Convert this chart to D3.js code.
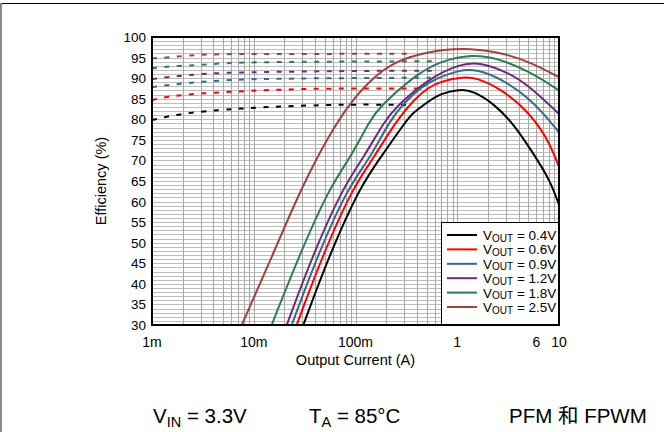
<!DOCTYPE html>
<meta charset="utf-8">
<style>
body { margin: 0; background: #fff; }
svg { font-family: "Liberation Sans", Arial, "Noto Sans CJK SC", sans-serif; }
</style>
<svg width="664" height="432"></svg>
<script src="https://d3js.org/d3.v7.min.js"></script>
<script>
// series labels and colours
var vouts = ["0.4V", "0.6V", "0.9V", "1.2V", "1.8V", "2.5V"];
var colors = ["#000000", "#ff0000", "#336b8a", "#6b2d7a", "#2f7a57", "#a0403f"];

// FPWM curves [current A, efficiency %]
var fpwm04 = [[0.0307,30],[0.0561,47.4],[0.111,63.6],[0.174,70.5],[0.318,79.8],[0.370,81.6],[0.494,83.9],[0.63,85.8],[0.85,86.8],[1.12,87.3],[1.44,86.8],[2.26,83.9],[3.56,79.0],[5.59,71.7],[8.16,65.2],[10,59.2]];
var fpwm06 = [[0.0264,30],[0.0483,47.4],[0.0951,63.6],[0.150,70.5],[0.254,79.8],[0.385,85.0],[0.505,87.5],[0.676,89.2],[1.14,90.3],[1.55,90.1],[2.63,87.5],[4.82,82.3],[7.57,75.8],[10,68.5]];
var fpwm09 = [[0.0236,30],[0.0431,47.4],[0.0849,63.6],[0.139,70.5],[0.218,79.8],[0.300,84.0],[0.451,88.0],[0.632,90.0],[1.06,92.0],[1.55,92.2],[2.84,89.6],[4.82,85.5],[7.01,81.5],[10,76.8]];
var fpwm12 = [[0.0211,30],[0.0385,47.4],[0.0759,63.6],[0.119,70.5],[0.195,79.8],[0.254,83.1],[0.501,89.6],[1.06,93.5],[1.67,93.9],[3.30,91.2],[5.19,87.9],[10,81.3]];
var fpwm18 = [[0.0150,30],[0.0285,47.4],[0.0561,63.6],[0.0883,70.5],[0.139,79.8],[0.174,83.1],[0.370,90.4],[0.676,94.2],[1.43,95.8],[2.44,94.9],[5.19,91.6],[10,87.0]];
var fpwm25 = [[0.00762,30],[0.0156,47.4],[0.0296,63.6],[0.0561,76.6],[0.0883,83.9],[0.139,89.6],[0.254,94.4],[0.540,96.5],[1.11,97.4],[2.44,96.5],[5.19,94.0],[10,90.2]];

// PFM curves (dashed) [current A, efficiency %]
var pfm04 = [[0.001,79.8],[0.0019,81.4],[0.0047,82.3],[0.0085,82.7],[0.017,83.1],[0.052,83.5],[0.124,83.6],[0.33,83.5]];
var pfm06 = [[0.001,84.7],[0.0014,85.5],[0.002,85.9],[0.003,86.3],[0.006,86.7],[0.011,87.0],[0.031,87.4],[0.091,87.5],[0.5,87.5]];
var pfm09 = [[0.001,87.8],[0.0014,88.3],[0.002,88.7],[0.003,89.1],[0.006,89.6],[0.012,89.8],[0.05,90.0],[0.55,90.1]];
var pfm12 = [[0.001,89.8],[0.0014,90.2],[0.002,90.6],[0.003,91.0],[0.006,91.4],[0.03,91.6],[0.15,91.8],[0.62,91.8]];
var pfm18 = [[0.001,92.4],[0.0014,92.8],[0.002,93.0],[0.003,93.2],[0.006,93.8],[0.03,94.0],[0.65,94.1]];
var pfm25 = [[0.001,94.8],[0.0014,95.0],[0.002,95.4],[0.0035,95.8],[0.01,95.9],[0.37,95.9]];

// axis ticks
var xTicks = [0.001, 0.01, 0.1, 1, 6, 10];
var xTickLabels = ["1m", "10m", "100m", "1", "6", "10"];
var yTicks = d3.range(30, 101, 5);

var fpwm = [fpwm04, fpwm06, fpwm09, fpwm12, fpwm18, fpwm25];
var pfm = [pfm04, pfm06, pfm09, pfm12, pfm18, pfm25];

var svg = d3.select("svg");
var pL = 152, pR = 559, pT = 37, pB = 325;

var x = d3.scaleLog().domain([0.001, 10]).range([pL, pR]);
var y = d3.scaleLinear().domain([30, 100]).range([pB, pT]);

// outer frame lines
svg.append("line").attr("x1", 0).attr("x2", 664).attr("y1", 3.5).attr("y2", 3.5)
    .attr("stroke", "#000").attr("stroke-width", 1);
svg.append("line").attr("x1", 1).attr("x2", 1).attr("y1", 3).attr("y2", 432)
    .attr("stroke", "#8a8a8a").attr("stroke-width", 2);

// grid
var minor = [];
[0.001, 0.01, 0.1, 1].forEach(function(d) {
  for (var k = 1; k < 10; k++) minor.push(d * k);
});
minor.push(10);

svg.append("g").selectAll("line")
    .data(d3.range(30, 101, 1))
  .enter().append("line")
    .attr("x1", pL).attr("x2", pR)
    .attr("y1", function(d) { return Math.round(y(d)) + 0.5; })
    .attr("y2", function(d) { return Math.round(y(d)) + 0.5; })
    .attr("stroke", "#bdbdbd");

svg.append("g").selectAll("line")
    .data(minor)
  .enter().append("line")
    .attr("y1", pT).attr("y2", pB)
    .attr("x1", function(d) { return Math.round(x(d)) + 0.5; })
    .attr("x2", function(d) { return Math.round(x(d)) + 0.5; })
    .attr("stroke", "#a8a8a8");

svg.append("clipPath").attr("id", "plot")
  .append("rect").attr("x", pL).attr("y", pT)
    .attr("width", pR - pL).attr("height", pB - pT);

var line = d3.line()
    .x(function(d) { return x(d[0]); })
    .y(function(d) { return y(d[1]); })
    .curve(d3.curveBasis);

var g = svg.append("g").attr("clip-path", "url(#plot)");

g.selectAll("path.pfm")
    .data(pfm)
  .enter().append("path")
    .attr("class", "pfm")
    .attr("d", line)
    .attr("fill", "none")
    .attr("stroke", function(d, i) { return colors[i]; })
    .attr("stroke-width", 2)
    .attr("stroke-dasharray", "5,7.5");

g.selectAll("path.fpwm")
    .data(fpwm)
  .enter().append("path")
    .attr("class", "fpwm")
    .attr("d", line)
    .attr("fill", "none")
    .attr("stroke", function(d, i) { return colors[i]; })
    .attr("stroke-width", 2);

// plot border
svg.append("rect")
    .attr("x", pL).attr("y", pT)
    .attr("width", pR - pL).attr("height", pB - pT)
    .attr("fill", "none").attr("stroke", "#000").attr("stroke-width", 2);

// tick labels
svg.append("g").selectAll("text")
    .data(yTicks)
  .enter().append("text")
    .attr("x", 146)
    .attr("y", function(d) { return y(d) + 5; })
    .attr("text-anchor", "end")
    .attr("font-size", 13.5)
    .text(function(d) { return d; });

svg.append("g").selectAll("text")
    .data(xTicks)
  .enter().append("text")
    .attr("x", function(d) { return x(d); })
    .attr("y", 347)
    .attr("text-anchor", "middle")
    .attr("font-size", 14)
    .text(function(d, i) { return xTickLabels[i]; });

svg.append("text")
    .attr("x", (pL + pR) / 2).attr("y", 365)
    .attr("text-anchor", "middle").attr("font-size", 14.5)
    .text("Output Current (A)");

svg.append("text")
    .attr("transform", "translate(106," + ((pT + pB) / 2) + ") rotate(-90)")
    .attr("text-anchor", "middle").attr("font-size", 14.5)
    .text("Efficiency (%)");

// legend
var lg = svg.append("g");
lg.append("rect")
    .attr("x", 441.5).attr("y", 222.5).attr("width", 117).attr("height", 102)
    .attr("fill", "#fff").attr("stroke", "#000");

var item = lg.selectAll("g.item")
    .data(vouts)
  .enter().append("g")
    .attr("transform", function(d, i) { return "translate(0," + (235 + i * 14.4) + ")"; });

item.append("line")
    .attr("x1", 447).attr("x2", 477)
    .attr("stroke", function(d, i) { return colors[i]; })
    .attr("stroke-width", 2);

var lt = item.append("text")
    .attr("x", 483).attr("y", 5)
    .attr("font-size", 13.5);
lt.append("tspan").text("V");
lt.append("tspan").attr("font-size", 10).attr("dy", 1.5).text("OUT");
lt.append("tspan").attr("dy", -1.5).text(function(d) { return " = " + d; });

// conditions along the bottom
var t1 = svg.append("text").attr("x", 153).attr("y", 423).attr("font-size", 20.5);
t1.append("tspan").text("V");
t1.append("tspan").attr("font-size", 14.5).attr("dy", 4).text("IN");
t1.append("tspan").attr("dy", -4).text(" = 3.3V");

var t2 = svg.append("text").attr("x", 309).attr("y", 423).attr("font-size", 20.5);
t2.append("tspan").text("T");
t2.append("tspan").attr("font-size", 14.5).attr("dy", 4).text("A");
t2.append("tspan").attr("dy", -4).text(" = 85°C");

svg.append("text").attr("x", 509).attr("y", 423).attr("font-size", 20.5)
    .text("PFM 和 FPWM");
</script>
